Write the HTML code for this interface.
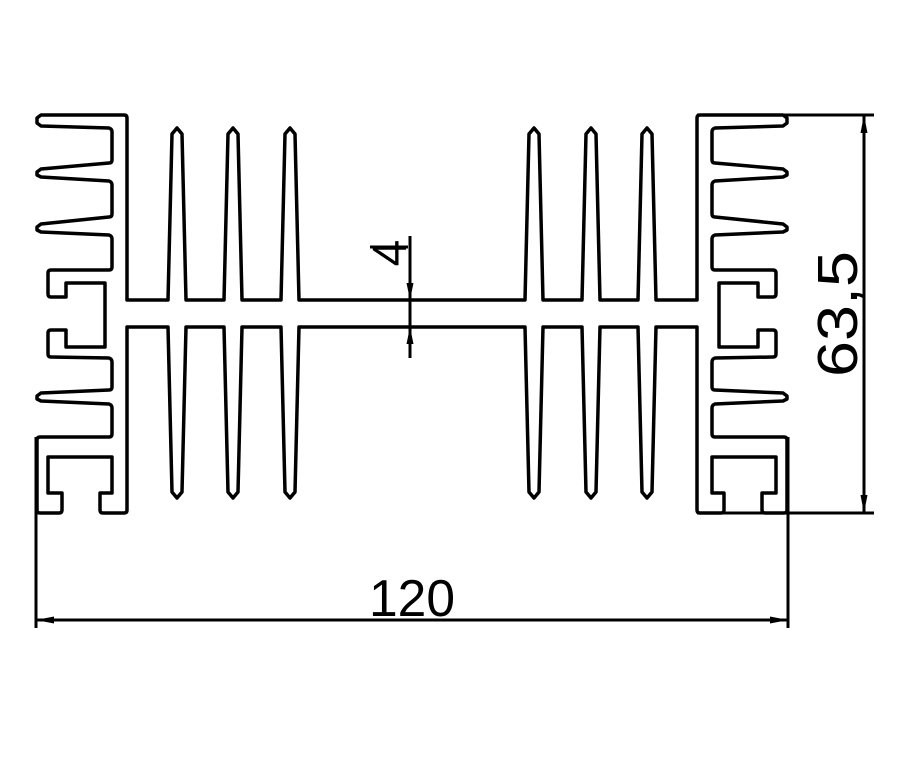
<!DOCTYPE html>
<html><head><meta charset="utf-8"><style>
html,body{margin:0;padding:0;background:#fff;}
svg{display:block;}
text{font-family:"Liberation Sans",sans-serif;fill:#000;}
</style></head><body>
<svg width="907" height="764" viewBox="0 0 907 764" xmlns="http://www.w3.org/2000/svg">
<defs>
<g id="half">
<path d="M412,300 L299,300 L295,134 L290,128 L285,134 L281,300 L242,300 L238,134 L233,128 L228,134 L224,300 L186,300 L182,134 L177,128 L172,134 L168,300 L127,300 L127,118 Q127,115 124,115 L41,115 L37,118 L37,123 L41,126 L109,128 Q112,129 112,132 L112,160 Q112,163 109,163 L41,169 L37,172 L37,175 L41,177 L109,181 Q112,182 112,185 L112,214 Q112,217 109,217 L41,224 L37,227 L37,230 L41,232 L109,235 Q112,236 112,239 L112,267 Q112,270 109,270 L51,270 Q48,270 48,273 L48,294 Q48,297 51,297 L66,297 L66,283 L105,283 L105,347 L66,347 L66,330 L51,330 Q48,330 48,333 L48,354 Q48,357 51,357 L109,358 Q112,359 112,362 L112,387 Q112,390 109,390 L41,393 L37,396 L37,399 L41,401 L109,404 Q112,405 112,408 L112,434 Q112,437 109,437 L40,437 Q37,437 37,440 L37,510 Q37,513 40,513 L59,513 Q62,513 62,510 L62,493 L48,493 L48,457 L112,457 L112,493 L100,493 L100,510 Q100,513 103,513 L124,513 Q127,513 127,510 L127,327 L168,327 L172,492 L177,498 L182,492 L186,327 L224,327 L228,492 L233,498 L238,492 L242,327 L281,327 L285,492 L290,498 L295,492 L299,327 L412,327" fill="none" stroke="#000" stroke-width="3.5" stroke-linejoin="round"/>
</g>
</defs>
<use href="#half"/>
<use href="#half" transform="matrix(-1 0 0 1 824 0)"/>
<g stroke="#000" stroke-width="3" fill="none">
<line x1="36" y1="437" x2="36" y2="628"/>
<line x1="788" y1="437" x2="788" y2="628"/>
<line x1="36" y1="620" x2="788" y2="620"/>
<line x1="697" y1="115" x2="874" y2="115"/>
<line x1="697" y1="513" x2="874" y2="513"/>
<line x1="864" y1="115" x2="864" y2="513"/>
<line x1="410" y1="236" x2="410" y2="358"/>
<line x1="370" y1="247" x2="408" y2="247"/>
</g>
<g fill="#000">
<polygon points="36,620 54,616.5 54,623.5"/>
<polygon points="788,620 770,616.5 770,623.5"/>
<polygon points="864,115 860.5,133 867.5,133"/>
<polygon points="864,513 860.5,495 867.5,495"/>
<polygon points="410,300 406.5,283 413.5,283"/>
<polygon points="410,327 406.5,344 413.5,344"/>
</g>
<text x="412" y="616" font-size="52" text-anchor="middle" textLength="86" lengthAdjust="spacingAndGlyphs">120</text>
<text transform="translate(857,314) rotate(-90)" font-size="57" text-anchor="middle" textLength="126" lengthAdjust="spacingAndGlyphs">63,5</text>
<text transform="translate(406,253) rotate(-90)" font-size="48" text-anchor="middle">4</text>
</svg>
</body></html>
